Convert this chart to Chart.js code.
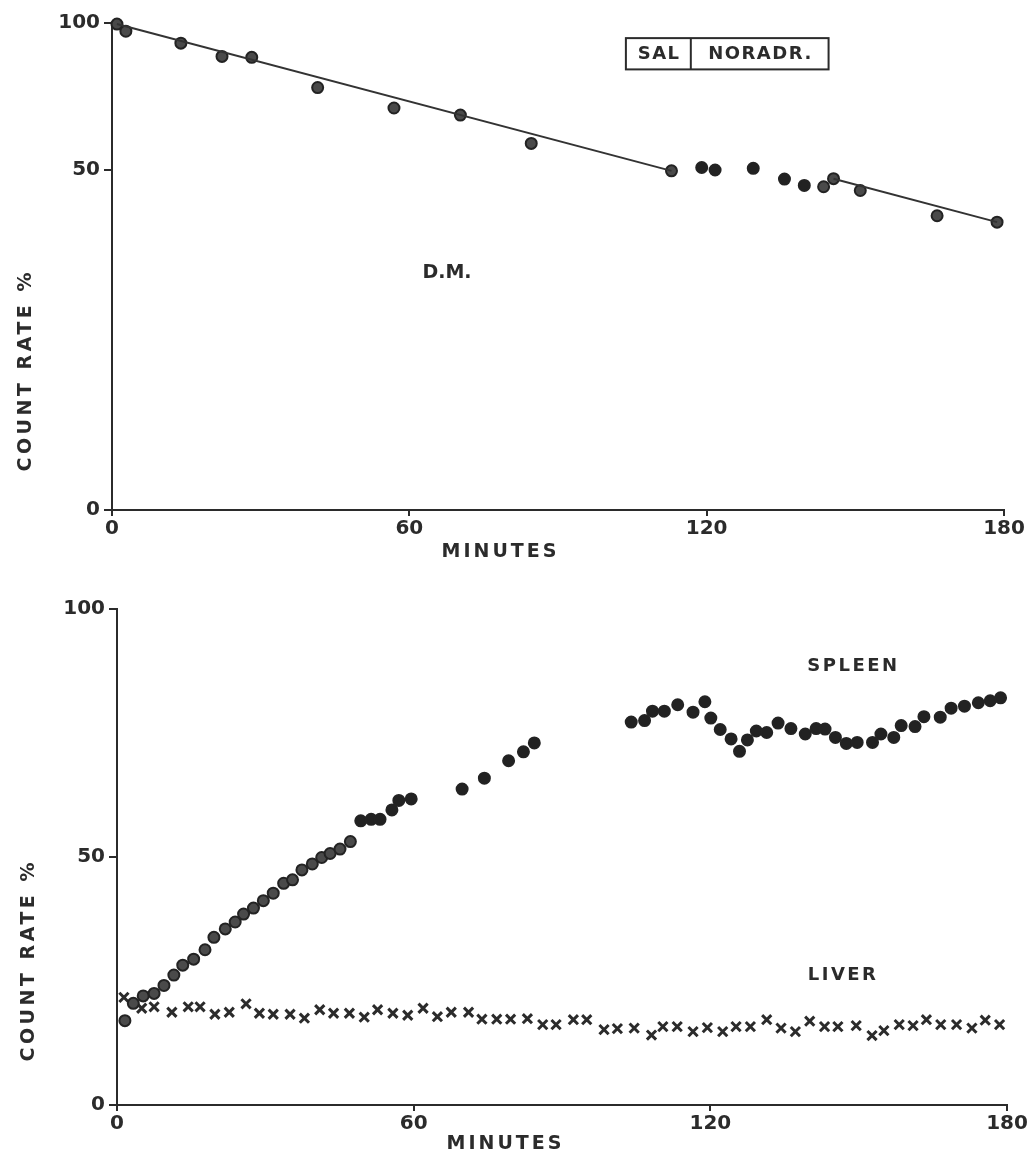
<!DOCTYPE html>
<html>
<head>
<meta charset="utf-8">
<script src="https://cdn.jsdelivr.net/npm/chart.js@4/dist/chart.umd.min.js"></script>
<style>
  html, body { margin: 0; padding: 0; background: #fff; }
  #wrap { position: relative; width: 1029px; height: 1161px; }
  canvas { position: absolute; left: 0; }
  #topChart { top: 0; }
  #bottomChart { top: 580px; }
</style>
</head>
<body>
<div id="wrap">
  <canvas id="topChart" width="1029" height="580"></canvas>
  <canvas id="bottomChart" width="1029" height="581"></canvas>
</div>
<script>
// ---- D.M. whole-body count rate (semi-log), minutes after injection ----
const dmMinutes = [1.0, 2.8, 13.9, 22.2, 28.2, 41.5, 56.9, 70.3, 84.6, 112.9,
                   145.6, 151.0, 166.5, 178.6, 143.6];
const dmRate    = [99.5, 96.2, 90.9, 85.4, 85.0, 73.7, 66.9, 64.7, 56.6, 49.7,
                   47.9, 45.3, 40.2, 39.0, 46.1];
// noradrenaline infusion period
const dmNoradrMinutes = [119.0, 121.7, 129.4, 135.7, 139.7];
const dmNoradrRate    = [50.5, 49.9, 50.3, 47.8, 46.4];
// fitted decay lines
const fit1Minutes = [1.0, 112.9];
const fit1Rate    = [99.5, 49.7];
const fit2Minutes = [145.6, 178.6];
const fit2Rate    = [47.9, 39.0];

const topTickValues = [10, 50, 100];
const topTickLabels = ['0', '50', '100'];

// ---- Spleen and liver count rate ----
const spleenMinutes = [1.6, 3.3, 5.3, 7.5, 9.5, 11.5, 13.3, 15.5, 17.8, 19.6,
  21.9, 23.9, 25.6, 27.6, 29.6, 31.6, 33.7, 35.5, 37.4, 39.5, 41.4, 43.1, 45.1, 47.2];
const spleenRate = [17.0, 20.5, 22.0, 22.5, 24.1, 26.2, 28.2, 29.4, 31.3, 33.8,
  35.5, 36.9, 38.5, 39.7, 41.2, 42.7, 44.7, 45.4, 47.4, 48.6, 49.9, 50.7, 51.6, 53.1];
const spleenLateMinutes = [49.3, 51.4, 53.2, 55.6, 57.0, 59.5, 69.8, 74.3, 79.2, 82.2, 84.4,
  104.0, 106.7, 108.3, 110.7, 113.4, 116.5, 118.9, 120.1, 122.0, 124.2, 125.9, 127.5,
  129.3, 131.4, 133.7, 136.3, 139.2, 141.4, 143.2, 145.3, 147.5, 149.7, 152.8, 154.5,
  157.1, 158.6, 161.4, 163.2, 166.5, 168.7, 171.4, 174.2, 176.6, 178.7];
const spleenLateRate = [57.3, 57.6, 57.6, 59.5, 61.4, 61.7, 63.7, 65.9, 69.4, 71.2, 73.0,
  77.2, 77.5, 79.4, 79.4, 80.7, 79.2, 81.3, 78.0, 75.7, 73.8, 71.3, 73.6,
  75.4, 75.1, 77.0, 75.9, 74.8, 75.9, 75.8, 74.1, 72.9, 73.1, 73.1, 74.8,
  74.1, 76.5, 76.3, 78.3, 78.2, 80.0, 80.4, 81.1, 81.5, 82.1];

const liverMinutes = [1.4, 5.0, 7.5, 11.1, 14.4, 16.8, 19.8, 22.7, 26.1, 28.8,
  31.6, 35.0, 37.9, 41.0, 43.8, 47.0, 50.0, 52.7, 55.8, 58.8, 61.9, 64.8, 67.6,
  71.1, 73.8, 76.8, 79.6, 83.0, 86.1, 88.8, 92.3, 95.0, 98.5, 101.2, 104.6, 108.1,
  110.4, 113.3, 116.5, 119.4, 122.5, 125.2, 128.1, 131.4, 134.3, 137.2, 140.1, 143.1,
  145.8, 149.5, 152.7, 155.1, 158.2, 161.0, 163.7, 166.6, 169.8, 172.9, 175.6, 178.5];
const liverRate = [21.7, 19.5, 19.8, 18.7, 19.8, 19.8, 18.3, 18.7, 20.4, 18.5,
  18.3, 18.3, 17.5, 19.2, 18.5, 18.5, 17.7, 19.2, 18.5, 18.1, 19.5, 17.8, 18.7,
  18.7, 17.3, 17.3, 17.3, 17.4, 16.2, 16.2, 17.2, 17.2, 15.2, 15.4, 15.5, 14.1,
  15.8, 15.8, 14.8, 15.6, 14.8, 15.8, 15.8, 17.2, 15.5, 14.8, 16.9, 15.8,
  15.8, 16.0, 14.0, 15.0, 16.2, 16.0, 17.2, 16.2, 16.2, 15.5, 17.1, 16.2];

const minuteTicks = [0, 60, 120, 180];

// ---- styling ----
const INK = '#2b2b2b';
const FONT = '"DejaVu Sans", "Liberation Sans", sans-serif';

const pairs = (xs, ys) => xs.map((x, i) => ({ x, y: ys[i] }));

function dotSet(xs, ys, fill) {
  return {
    data: pairs(xs, ys), showLine: false, clip: false,
    pointRadius: 5.5, pointHoverRadius: 5.5, pointBorderWidth: 2,
    pointBackgroundColor: fill, pointBorderColor: '#232323'
  };
}
function lineSet(xs, ys) {
  return {
    data: pairs(xs, ys), showLine: true, clip: false, pointRadius: 0,
    borderColor: '#333', borderWidth: 2, tension: 0
  };
}

// free text, the treatment box and axis titles
const annotate = {
  id: 'annotate',
  afterDraw(chart, args, opts) {
    const ctx = chart.ctx;
    const sx = chart.scales.x, sy = chart.scales.y;
    ctx.save();
    ctx.fillStyle = INK;
    ctx.strokeStyle = INK;
    ctx.textAlign = 'center';
    ctx.textBaseline = 'middle';
    const put = (t, x, y, size, spacing, rot) => {
      ctx.save();
      ctx.font = `bold ${size}px ${FONT}`;
      if ('letterSpacing' in ctx) ctx.letterSpacing = spacing + 'px';
      ctx.translate(x, y);
      if (rot) ctx.rotate(rot);
      ctx.fillText(t, spacing / 2, 0);
      ctx.restore();
    };
    (opts.labels || []).forEach(l => {
      put(l.text, sx.getPixelForValue(l.x), sy.getPixelForValue(l.y), l.size, l.spacing || 0);
    });
    (opts.titles || []).forEach(t => {
      put(t.text, t.cx, t.cy, t.size, t.spacing || 0, t.rot || 0);
    });
    if (opts.box) {
      const b = opts.box;
      const x0 = sx.getPixelForValue(b.x0), x1 = sx.getPixelForValue(b.x1);
      const xm = sx.getPixelForValue(b.xm);
      const y0 = sy.getPixelForValue(b.y0), y1 = sy.getPixelForValue(b.y1);
      ctx.lineWidth = 2;
      ctx.strokeRect(x0, y0, x1 - x0, y1 - y0);
      ctx.beginPath(); ctx.moveTo(xm, y0); ctx.lineTo(xm, y1); ctx.stroke();
      const cy = (y0 + y1) / 2 + 1;
      put(b.left, (x0 + xm) / 2, cy, 18, 1.5);
      put(b.right, (xm + x1) / 2, cy, 18, 1.5);
    }
    ctx.restore();
  }
};

function axes(yOpts, yWidth, xHeight) {
  const tickFont = { family: FONT, size: 20, weight: 'bold' };
  return {
    x: {
      type: 'linear', min: 0, max: 180,
      afterBuildTicks: s => { s.ticks = minuteTicks.map(v => ({ value: v })); },
      afterFit: s => { s.height = xHeight; },
      border: { display: true, color: INK, width: 2 },
      grid: { display: true, drawOnChartArea: false, drawTicks: true, tickLength: 6, color: INK, lineWidth: 2 },
      ticks: { color: INK, font: tickFont, padding: 1, maxRotation: 0, autoSkip: false }
    },
    y: Object.assign({
      afterFit: s => { s.width = yWidth; },
      border: { display: true, color: INK, width: 2 },
      grid: { display: true, drawOnChartArea: false, drawTicks: true, tickLength: 8, color: INK, lineWidth: 2 },
      ticks: { color: INK, font: tickFont, padding: 4, autoSkip: false }
    }, yOpts)
  };
}

const common = {
  responsive: false, animation: false, devicePixelRatio: 1,
  plugins: { legend: { display: false }, tooltip: { enabled: false } },
  events: []
};

// ---- upper panel: D.M. ----
new Chart(document.getElementById('topChart'), {
  type: 'scatter',
  data: {
    datasets: [
      lineSet(fit1Minutes, fit1Rate),
      lineSet(fit2Minutes, fit2Rate),
      dotSet(dmMinutes, dmRate, '#4a4a4a'),
      dotSet(dmNoradrMinutes, dmNoradrRate, '#222')
    ]
  },
  options: Object.assign({}, common, {
    layout: { padding: { left: 0, right: 25, top: 23, bottom: 0 } },
    scales: axes({
      type: 'logarithmic', min: 10, max: 100,
      afterBuildTicks: s => { s.ticks = topTickValues.map(v => ({ value: v })); }
    }, 112, 70),
    plugins: Object.assign({}, common.plugins, {
      annotate: {
        labels: [{ text: 'D.M.', x: 67.6, y: 30.6, size: 19, spacing: 0 }],
        box: { x0: 103.7, xm: 116.8, x1: 144.6, y0: 93.1, y1: 80.3, left: 'SAL', right: 'NORADR.' },
        titles: [
          { text: 'MINUTES', cx: 499, cy: 552, size: 19, spacing: 3 },
          { text: 'COUNT RATE %', cx: 26, cy: 372, size: 19, spacing: 3.5, rot: -Math.PI / 2 }
        ]
      }
    })
  }),
  plugins: [annotate]
});
Chart.getChart('topChart').options.scales.y.ticks.callback = function (v) {
  const i = topTickValues.indexOf(v);
  return i >= 0 ? topTickLabels[i] : '';
};
Chart.getChart('topChart').update();

// ---- lower panel: spleen and liver ----
new Chart(document.getElementById('bottomChart'), {
  type: 'scatter',
  data: {
    datasets: [
      dotSet(spleenMinutes, spleenRate, '#4a4a4a'),
      dotSet(spleenLateMinutes, spleenLateRate, '#222'),
      {
        data: pairs(liverMinutes, liverRate), showLine: false, clip: false,
        pointStyle: 'crossRot', pointRadius: 6.5, pointHoverRadius: 6.5,
        pointBorderWidth: 3, pointBorderColor: INK
      }
    ]
  },
  options: Object.assign({}, common, {
    layout: { padding: { left: 0, right: 22, top: 29, bottom: 0 } },
    scales: axes({
      type: 'linear', min: 0, max: 100,
      afterBuildTicks: s => { s.ticks = [0, 50, 100].map(v => ({ value: v })); }
    }, 117, 56),
    plugins: Object.assign({}, common.plugins, {
      annotate: {
        labels: [
          { text: 'SPLEEN', x: 148.7, y: 88.5, size: 18, spacing: 2.5 },
          { text: 'LIVER', x: 146.6, y: 26.2, size: 18, spacing: 2.5 }
        ],
        titles: [
          { text: 'MINUTES', cx: 504, cy: 564, size: 19, spacing: 3 },
          { text: 'COUNT RATE %', cx: 29, cy: 382, size: 19, spacing: 3.5, rot: -Math.PI / 2 }
        ]
      }
    })
  }),
  plugins: [annotate]
});
</script>
</body>
</html>
